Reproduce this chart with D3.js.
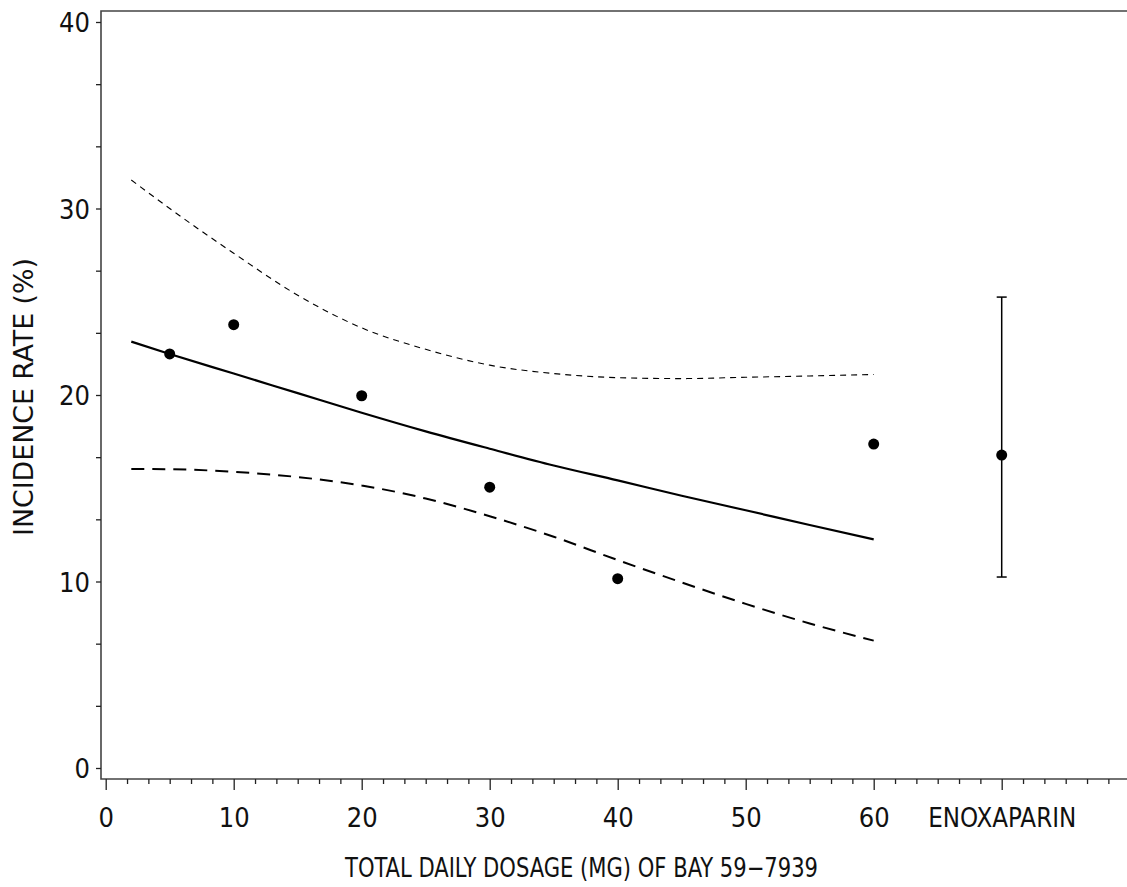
<!DOCTYPE html>
<html>
<head>
<meta charset="utf-8">
<script src="https://cdn.jsdelivr.net/npm/d3@7"></script>
<style>
  body { margin: 0; background: #fff; }
  svg text { font-family: "Liberation Sans Narrow", "DejaVu Sans Condensed", sans-serif; fill: #111; }
</style>
</head>
<body>
<div class="graph"></div>
<script>
const width = 1127;
const height = 887;

// observed incidence rates per dose group
const doses = [5, 10, 20, 30, 40, 60];
const rates = [22.2, 23.77, 19.96, 15.06, 10.15, 17.37];

// enoxaparin comparator (placed at x = 70) with its confidence interval
const enoxPos = 70;
const enoxRate = 16.78;
const enoxLow = 10.24;
const enoxHigh = 25.25;

// fitted dose-response curve and confidence band
const fitX = [2, 5, 10, 15, 20, 25, 30, 35, 40, 45, 50, 55, 60];
const fitMid = [22.86, 22.2, 21.15, 20.1, 19.05, 18.05, 17.12, 16.22, 15.42, 14.6, 13.82, 13.03, 12.26];
const fitUpper = [31.53, 30.0, 27.6, 25.35, 23.6, 22.45, 21.6, 21.15, 20.93, 20.88, 20.95, 21.02, 21.1];
const fitLower = [16.03, 16.02, 15.88, 15.6, 15.15, 14.45, 13.5, 12.4, 11.15, 9.95, 8.8, 7.75, 6.83];

// axis ticks
const xMajor = [0, 10, 20, 30, 40, 50, 60, 70];
const xLabels = ["0", "10", "20", "30", "40", "50", "60", "ENOXAPARIN"];
const yMajor = [0, 10, 20, 30, 40];

const frame = { left: 101, top: 11, bottom: 779, right: width };

const xScale = d3.scaleLinear().domain([0, 80]).range([105.7, 1129.7]);
const yScale = d3.scaleLinear().domain([0, 40]).range([768, 22]);

const svg = d3.select(".graph").append("svg")
  .attr("width", width)
  .attr("height", height);

// frame lines
svg.append("path")
  .attr("d", `M${frame.right},${frame.top}H${frame.left}V${frame.bottom}H${frame.right}`)
  .attr("fill", "none")
  .attr("stroke", "#444")
  .attr("stroke-width", 1.6);

// x axis: majors, minors
const xMinor = d3.range(0, 80, 10 / 6).filter((v) => Math.abs(v - Math.round(v / 10) * 10) > 0.01);
const xAxis = d3.axisBottom(xScale).tickValues(xMajor).tickSize(11).tickPadding(0)
  .tickFormat((d, i) => xLabels[i]);
const gx = svg.append("g")
  .attr("transform", "translate(0," + frame.bottom + ")")
  .call(xAxis);
gx.select(".domain").remove();
gx.selectAll(".tick line").attr("stroke", "#222").attr("stroke-width", 1.3);
gx.selectAll(".tick text")
  .attr("y", 48).attr("dy", null)
  .style("font-size", "27px")
  .each(function (d) {
    if (d === enoxPos) {
      d3.select(this).attr("textLength", 148).attr("lengthAdjust", "spacingAndGlyphs");
    }
  });

const gxm = svg.append("g")
  .attr("transform", "translate(0," + frame.bottom + ")")
  .call(d3.axisBottom(xScale).tickValues(xMinor).tickSize(5).tickFormat(""));
gxm.select(".domain").remove();
gxm.selectAll(".tick line").attr("stroke", "#222").attr("stroke-width", 1.3);

// y axis
const yMinor = d3.range(0, 40, 10 / 3).filter((v) => Math.abs(v - Math.round(v / 10) * 10) > 0.01);
const gy = svg.append("g")
  .attr("transform", "translate(" + frame.left + ",0)")
  .call(d3.axisLeft(yScale).tickValues(yMajor).tickSize(5).tickPadding(6));
gy.select(".domain").remove();
gy.selectAll(".tick line").attr("stroke", "#222").attr("stroke-width", 1.3);
gy.selectAll(".tick text").style("font-size", "27px").attr("dy", "0.36em");

const gym = svg.append("g")
  .attr("transform", "translate(" + frame.left + ",0)")
  .call(d3.axisLeft(yScale).tickValues(yMinor).tickSize(5).tickFormat(""));
gym.select(".domain").remove();
gym.selectAll(".tick line").attr("stroke", "#222").attr("stroke-width", 1.3);

// axis titles
svg.append("text")
  .attr("x", 581.5)
  .attr("y", 877)
  .attr("text-anchor", "middle")
  .attr("textLength", 473)
  .attr("lengthAdjust", "spacingAndGlyphs")
  .style("font-size", "27px")
  .text("TOTAL DAILY DOSAGE (MG) OF BAY 59\u22127939");

svg.append("text")
  .attr("transform", "translate(33,397) rotate(-90)")
  .attr("text-anchor", "middle")
  .attr("textLength", 278)
  .attr("lengthAdjust", "spacingAndGlyphs")
  .style("font-size", "27px")
  .text("INCIDENCE RATE (%)");

// curves
const line = d3.line().x((d) => xScale(d[0])).y((d) => yScale(d[1])).curve(d3.curveMonotoneX);

svg.append("path")
  .datum(fitX.map((x, i) => [x, fitUpper[i]]))
  .attr("d", line)
  .attr("fill", "none")
  .attr("stroke", "#000")
  .attr("stroke-width", 1.1)
  .attr("stroke-dasharray", "6,5");

svg.append("path")
  .datum(fitX.map((x, i) => [x, fitLower[i]]))
  .attr("d", line)
  .attr("fill", "none")
  .attr("stroke", "#000")
  .attr("stroke-width", 2)
  .attr("stroke-dasharray", "13,8");

svg.append("path")
  .datum(fitX.map((x, i) => [x, fitMid[i]]))
  .attr("d", line)
  .attr("fill", "none")
  .attr("stroke", "#000")
  .attr("stroke-width", 2.2);

// observed points
svg.selectAll("circle.obs")
  .data(doses.map((d, i) => [d, rates[i]]))
  .enter()
  .append("circle")
  .attr("class", "obs")
  .attr("cx", (d) => xScale(d[0]))
  .attr("cy", (d) => yScale(d[1]))
  .attr("r", 5.5)
  .attr("fill", "#000");

// enoxaparin error bar
const eb = svg.append("g").attr("stroke", "#000").attr("stroke-width", 1.5);
eb.append("line")
  .attr("x1", xScale(enoxPos)).attr("x2", xScale(enoxPos))
  .attr("y1", yScale(enoxHigh)).attr("y2", yScale(enoxLow));
[enoxHigh, enoxLow].forEach((v) => {
  eb.append("line")
    .attr("x1", xScale(enoxPos) - 5).attr("x2", xScale(enoxPos) + 5)
    .attr("y1", yScale(v)).attr("y2", yScale(v));
});
svg.append("circle")
  .attr("cx", xScale(enoxPos))
  .attr("cy", yScale(enoxRate))
  .attr("r", 5.5)
  .attr("fill", "#000");
</script>
</body>
</html>
